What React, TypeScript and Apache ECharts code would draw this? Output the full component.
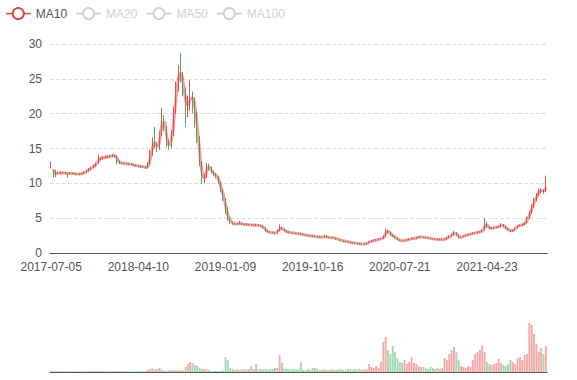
import React, { useEffect, useRef } from "react";
import * as echarts from "echarts";

// Sampled every 5 trading days
const dates: string[] = [
  "2017-07-05","2017-07-12","2017-07-20","2017-07-27","2017-08-04","2017-08-11","2017-08-19","2017-08-26","2017-09-03","2017-09-10","2017-09-18","2017-09-25","2017-10-03","2017-10-10","2017-10-18","2017-10-25","2017-11-02","2017-11-09","2017-11-17","2017-11-24","2017-12-02","2017-12-09","2017-12-17","2017-12-24","2018-01-01","2018-01-08","2018-01-16","2018-01-23","2018-01-31","2018-02-07","2018-02-15","2018-02-22","2018-03-02","2018-03-09","2018-03-17","2018-03-24","2018-04-01",
  "2018-04-10","2018-04-17","2018-04-25","2018-05-02","2018-05-10","2018-05-17","2018-05-25","2018-06-01","2018-06-09","2018-06-16","2018-06-24","2018-07-01","2018-07-09","2018-07-16","2018-07-24","2018-07-31","2018-08-08","2018-08-15","2018-08-23","2018-08-30","2018-09-07","2018-09-14","2018-09-22","2018-09-29","2018-10-07","2018-10-14","2018-10-22","2018-10-29","2018-11-06","2018-11-13","2018-11-21","2018-11-28","2018-12-06","2018-12-13","2018-12-21","2018-12-28","2019-01-05",
  "2019-01-09","2019-01-16","2019-01-24","2019-01-31","2019-02-08","2019-02-15","2019-02-23","2019-03-02","2019-03-10","2019-03-17","2019-03-25","2019-04-01","2019-04-09","2019-04-16","2019-04-24","2019-05-01","2019-05-09","2019-05-16","2019-05-24","2019-05-31","2019-06-08","2019-06-15","2019-06-23","2019-06-30","2019-07-08","2019-07-15","2019-07-23","2019-07-30","2019-08-07","2019-08-14","2019-08-22","2019-08-29","2019-09-06","2019-09-13","2019-09-21","2019-09-28","2019-10-06",
  "2019-10-16","2019-10-23","2019-10-31","2019-11-07","2019-11-15","2019-11-22","2019-11-30","2019-12-07","2019-12-15","2019-12-22","2019-12-30","2020-01-06","2020-01-14","2020-01-21","2020-01-29","2020-02-05","2020-02-13","2020-02-20","2020-02-28","2020-03-06","2020-03-14","2020-03-21","2020-03-29","2020-04-05","2020-04-13","2020-04-20","2020-04-28","2020-05-05","2020-05-13","2020-05-20","2020-05-28","2020-06-04","2020-06-12","2020-06-19","2020-06-27","2020-07-04","2020-07-12",
  "2020-07-21","2020-07-28","2020-08-05","2020-08-12","2020-08-20","2020-08-27","2020-09-04","2020-09-11","2020-09-19","2020-09-26","2020-10-04","2020-10-11","2020-10-19","2020-10-26","2020-11-03","2020-11-10","2020-11-18","2020-11-25","2020-12-03","2020-12-10","2020-12-18","2020-12-25","2021-01-02","2021-01-09","2021-01-17","2021-01-24","2021-02-01","2021-02-08","2021-02-16","2021-02-23","2021-03-03","2021-03-10","2021-03-18","2021-03-25","2021-04-02","2021-04-09","2021-04-17",
  "2021-04-23","2021-04-30","2021-05-08","2021-05-15","2021-05-23","2021-05-30","2021-06-07","2021-06-14","2021-06-22","2021-06-29","2021-07-07","2021-07-14","2021-07-22","2021-07-29","2021-08-06","2021-08-13","2021-08-21","2021-08-28","2021-09-05","2021-09-12","2021-09-20","2021-09-27","2021-10-05","2021-10-12","2021-10-20","2021-10-27",
];

const tickLabels = ["2017-07-05", "2018-04-10", "2019-01-09", "2019-10-16", "2020-07-21", "2021-04-23"];

// [open, close, low, high]
const candles: number[][] = [
  [12.2,12.9,12.1,13.1],[11.6,11.2,10.8,11.8],[11.1,11.5,10.9,11.9],[11.5,11.45,11.3,11.6],[11.4,11.5,11.3,11.7],
  [11.5,11.5,11.35,11.65],[11.5,11.45,11.3,11.6],[11.45,11.4,10.8,11.55],[11.4,11.45,11.3,11.6],[11.45,11.4,11.3,11.55],
  [11.4,11.35,11.25,11.5],[11.35,11.3,11.2,11.45],[11.3,11.35,11.2,11.45],[11.35,11.4,11.25,11.5],[11.4,11.6,11.35,11.7],
  [11.6,11.8,11.5,11.9],[11.8,12.0,11.7,12.2],[12.0,12.3,11.9,12.4],[12.3,12.5,12.2,12.7],[12.5,12.9,12.4,13.0],
  [12.9,13.5,12.8,14.1],[13.5,13.6,13.3,13.8],[13.6,13.7,13.4,13.9],[13.7,13.8,13.5,14.0],[13.8,13.8,13.6,14.0],
  [13.8,13.9,13.7,14.1],[13.9,14.0,13.8,14.2],[14.0,13.9,13.7,14.1],[13.9,13.2,12.7,14.0],[13.2,12.9,12.8,13.3],
  [12.9,12.9,12.8,13.0],[12.9,12.85,12.75,13.0],[12.85,12.8,12.7,12.95],[12.8,12.75,12.65,12.9],[12.75,12.7,12.6,12.85],
  [12.7,12.6,12.5,12.8],[12.6,12.5,12.4,12.7],[12.5,12.45,12.35,12.6],[12.45,12.4,12.3,12.55],[12.4,12.35,12.25,12.5],
  [12.35,12.3,12.1,12.45],[12.3,12.6,12.1,13.0],[12.7,14.2,12.6,14.8],[14.2,16.0,14.0,16.6],[16.0,15.6,15.0,18.1],
  [15.6,15.0,14.5,16.0],[15.0,17.0,14.8,17.5],[17.0,19.6,16.8,20.8],[19.6,18.0,17.5,19.8],[18.0,15.8,15.2,18.2],
  [15.8,15.3,14.8,16.3],[15.3,17.0,15.0,17.6],[17.0,20.5,16.8,21.0],[20.5,24.0,20.0,24.6],[24.0,26.0,23.2,27.0],
  [26.0,25.5,24.5,28.7],[25.5,23.5,22.5,26.0],[23.5,21.0,18.1,23.8],[21.0,21.5,19.5,22.6],[21.5,22.5,20.4,24.8],
  [22.5,22.0,20.0,23.2],[22.0,20.0,18.0,22.3],[20.0,16.5,15.8,20.3],[16.5,13.0,12.5,16.8],[13.0,10.5,9.9,13.2],
  [10.5,11.0,10.0,11.4],[11.0,12.5,10.8,12.9],[12.5,12.2,11.8,12.8],[12.2,11.6,11.4,12.4],[11.6,11.3,11.0,11.8],
  [11.3,11.0,10.7,11.5],[11.0,10.2,9.9,11.1],[10.2,9.0,8.7,10.3],[9.0,7.8,7.5,9.1],[7.8,6.0,5.6,7.9],
  [6.0,5.0,4.6,6.6],[5.0,4.4,4.2,5.1],[4.4,4.2,4.1,4.5],[4.2,4.15,4.05,4.3],[4.15,4.2,4.1,4.3],
  [4.2,4.3,4.1,4.6],[4.3,4.1,4.0,4.35],[4.1,4.1,4.0,4.2],[4.1,4.05,3.95,4.2],[4.05,4.05,3.95,4.15],
  [4.05,4.0,3.9,4.15],[4.0,4.0,3.9,4.1],[4.0,4.0,3.9,4.2],[4.0,3.95,3.85,4.1],[3.95,3.9,3.8,4.05],
  [3.9,3.6,3.5,3.95],[3.6,3.2,3.1,3.65],[3.2,3.0,2.9,3.25],[3.0,2.95,2.85,3.1],[2.95,2.9,2.8,3.05],
  [2.9,2.85,2.75,3.0],[2.85,3.2,2.8,3.3],[3.2,3.7,3.1,4.1],[3.7,3.4,3.3,3.8],[3.4,3.2,3.1,3.5],
  [3.2,3.0,2.9,3.25],[3.0,2.95,2.85,3.1],[2.95,2.9,2.8,3.0],[2.9,2.85,2.75,2.95],[2.85,2.8,2.7,2.9],
  [2.8,2.75,2.65,2.85],[2.75,2.7,2.6,2.85],[2.7,2.6,2.5,2.75],[2.6,2.55,2.45,2.65],[2.55,2.5,2.4,2.6],
  [2.5,2.45,2.35,2.55],[2.45,2.4,2.3,2.5],[2.4,2.35,2.25,2.45],[2.35,2.3,2.2,2.4],[2.3,2.3,2.2,2.4],
  [2.3,2.25,2.15,2.35],[2.25,2.4,2.2,2.6],[2.4,2.25,2.15,2.45],[2.25,2.2,2.1,2.3],[2.2,2.2,2.1,2.3],
  [2.2,2.15,2.05,2.25],[2.15,2.0,1.9,2.2],[2.0,1.9,1.8,2.05],[1.9,1.8,1.7,1.95],[1.8,1.7,1.6,1.85],
  [1.7,1.65,1.55,1.75],[1.65,1.6,1.5,1.7],[1.6,1.5,1.4,1.65],[1.5,1.45,1.35,1.55],[1.45,1.4,1.3,1.5],
  [1.4,1.35,1.25,1.45],[1.35,1.3,1.15,1.4],[1.3,1.25,1.15,1.35],[1.25,1.3,1.2,1.4],[1.3,1.45,1.25,1.5],
  [1.45,1.6,1.4,1.7],[1.6,1.75,1.55,1.8],[1.75,1.85,1.7,1.9],[1.85,1.9,1.8,2.0],[1.9,2.0,1.85,2.1],
  [2.0,2.05,1.95,2.15],[2.05,2.3,2.0,2.5],[2.3,3.2,2.25,3.5],[3.2,3.0,2.8,3.4],[3.0,2.6,2.5,3.1],
  [2.6,2.4,2.3,2.7],[2.4,2.2,2.1,2.5],[2.2,1.9,1.85,2.25],[1.9,1.8,1.7,1.95],[1.8,1.75,1.65,1.85],
  [1.75,1.8,1.7,1.9],[1.8,1.9,1.75,2.0],[1.9,2.0,1.85,2.1],[2.0,2.05,1.95,2.2],[2.05,2.1,2.0,2.2],
  [2.1,2.2,2.05,2.3],[2.2,2.3,2.15,2.4],[2.3,2.3,2.2,2.4],[2.3,2.25,2.15,2.35],[2.25,2.2,2.1,2.3],
  [2.2,2.15,2.05,2.25],[2.15,2.05,2.0,2.2],[2.05,2.0,1.95,2.1],[2.0,1.95,1.9,2.05],[1.95,1.95,1.85,2.05],
  [1.95,1.9,1.85,2.0],[1.9,1.95,1.85,2.05],[1.95,2.0,1.9,2.1],[2.0,2.2,1.95,2.3],[2.2,2.4,2.15,2.5],
  [2.4,2.6,2.35,2.7],[2.6,2.9,2.55,3.2],[2.9,2.6,2.5,3.0],[2.6,2.2,2.1,2.65],[2.2,2.3,2.15,2.4],
  [2.3,2.45,2.25,2.5],[2.45,2.55,2.4,2.65],[2.55,2.65,2.5,2.75],[2.65,2.75,2.6,2.85],[2.75,2.85,2.7,2.95],
  [2.85,2.9,2.8,3.0],[2.9,3.0,2.85,3.1],[3.0,3.05,2.95,3.15],[3.05,3.2,3.0,3.35],[3.2,4.3,3.15,5.0],
  [4.3,3.8,3.6,4.5],[3.8,3.5,3.4,3.85],[3.5,3.6,3.45,3.7],[3.6,3.65,3.55,3.75],[3.65,3.7,3.6,3.8],
  [3.7,3.8,3.65,3.9],[3.8,4.1,3.75,4.3],[4.1,3.8,3.7,4.15],[3.8,3.5,3.4,3.85],[3.5,3.3,3.2,3.55],
  [3.3,3.1,3.0,3.35],[3.1,3.3,3.05,3.4],[3.3,3.6,3.25,3.7],[3.6,3.9,3.55,4.0],[3.9,4.0,3.8,4.1],
  [4.0,4.1,3.9,4.2],[4.1,4.3,4.0,4.4],[4.3,5.0,4.25,5.2],[5.0,5.8,4.9,6.0],[5.8,6.7,5.6,7.0],
  [6.7,7.6,6.5,7.9],[7.6,8.3,7.4,8.6],[8.3,8.9,8.1,9.3],[8.9,9.0,8.6,9.3],[9.0,8.8,8.5,9.2],
  [8.8,10.0,8.7,11.1],
];

const volumes: number[] = [
  1.2,1.0,0.9,0.8,0.8,0.7,0.7,0.9,0.7,0.6,0.6,0.6,0.6,0.7,0.8,0.9,1.0,1.0,0.9,1.0,
  1.2,1.0,0.9,0.8,0.8,0.8,0.9,0.8,1.0,0.8,0.7,0.6,0.6,0.6,0.6,0.6,0.6,0.6,0.6,0.7,0.7,
  2,3,3.5,2.5,3,4,
  2,1.5,1.5,1.5,2,2,1.5,2,1.5,1.5,
  5,8,10,9,7,6,4,
  3,3,2.5,2,
  1,1,1,1,1.2,1.5,
  15,12,
  4,3,2,2.5,2,2.5,3,2.5,3,
  6,3,8,
  3,3,2.5,3,2.5,3,
  3,4,4,
  17,9,
  3,3,2.5,2.5,3,2.5,
  3,10,
  2,2,3,2,
  4,4,3,
  2,2,3,2,2,2.5,2,2,3,2.5,2,
  2,3,3,2,3,2.5,3,2,3,2.5,
  8,
  5,4,6,4,
  10,30,35,22,18,26,20,14,
  10,9,12,8,10,15,
  9,8,6,5,
  5,4,3,5,4,3,4,3,4,
  14,12,18,22,25,20,12,
  6,5,4,6,5,
  12,18,20,22,27,20,10,
  8,7,8,9,
  13,
  9,7,6,8,
  12,10,8,14,
  15,12,17,18,
  49,47,38,28,20,24,18,26,
];

const maNames = ["MA10", "MA20", "MA50", "MA100"];
const maDays = [10, 20, 50, 100];
const daysPerSample = 5;

const upColor = "#eb5454";
const downColor = "#47b262";

function calculateMA(days: number): (number | string)[] {
  const n = Math.max(1, Math.round(days / daysPerSample));
  const out: (number | string)[] = [];
  for (let i = 0; i < candles.length; i++) {
    if (i < n - 1) {
      out.push("-");
      continue;
    }
    let sum = 0;
    for (let j = 0; j < n; j++) sum += candles[i - j][1];
    out.push(+(sum / n).toFixed(3));
  }
  return out;
}

export default function App() {
  const ref = useRef<HTMLDivElement>(null);
  useEffect(() => {
    document.body.style.margin = "0";
    if (!ref.current) return;
    const chart = echarts.init(ref.current, undefined, { renderer: "svg" });
    const maColors = ["#d94a42", "#5470c6", "#91cc75", "#fac858"];
    const showLabel = (_i: number, v: string) => tickLabels.includes(v);
    chart.setOption({
      animation: false,
      legend: {
        data: maNames,
        left: 0,
        top: 2,
        itemStyle: { borderWidth: 1.2 },
        lineStyle: { width: 1.5, opacity: 1 },
        selected: { MA10: true, MA20: false, MA50: false, MA100: false },
      },
      grid: [
        { left: 50, right: 30, top: 44, height: 209 },
        { left: 50, right: 30, top: 322, height: 50 },
      ],
      xAxis: [
        {
          type: "category",
          data: dates,
          boundaryGap: true,
          axisLine: { onZero: false },
          axisTick: { interval: showLabel },
          axisLabel: { interval: showLabel },
          splitLine: { show: false },
        },
        {
          type: "category",
          gridIndex: 1,
          data: dates,
          boundaryGap: true,
          axisLine: { onZero: false },
          axisTick: { show: false },
          axisLabel: { show: false },
          splitLine: { show: false },
        },
      ],
      yAxis: [
        {
          type: "value",
          min: 0,
          max: 30,
          interval: 5,
          splitLine: { lineStyle: { type: "dashed" } },
        },
        {
          type: "value",
          gridIndex: 1,
          min: 0,
          max: 50,
          axisLabel: { show: false },
          axisLine: { show: false },
          axisTick: { show: false },
          splitLine: { show: false },
        },
      ],
      series: [
        {
          name: "K",
          type: "candlestick",
          data: candles,
          itemStyle: {
            color: upColor,
            color0: downColor,
            borderColor: upColor,
            borderColor0: downColor,
          },
        },
        ...maNames.map((name, k) => ({
          name,
          type: "line",
          data: calculateMA(maDays[k]),
          smooth: true,
          showSymbol: false,
          color: maColors[k],
          lineStyle: { width: 3, opacity: 0.5 },
        })),
        {
          name: "Volume",
          type: "bar",
          xAxisIndex: 1,
          yAxisIndex: 1,
          barWidth: "80%",
          data: volumes.map((v, i) => ({
            value: v,
            itemStyle: {
              color: candles[i][1] >= candles[i][0] ? upColor : downColor,
              opacity: 0.5,
            },
          })),
        },
      ],
    });
    return () => chart.dispose();
  }, []);
  return <div ref={ref} style={{ width: 577, height: 380 }} />;
}
